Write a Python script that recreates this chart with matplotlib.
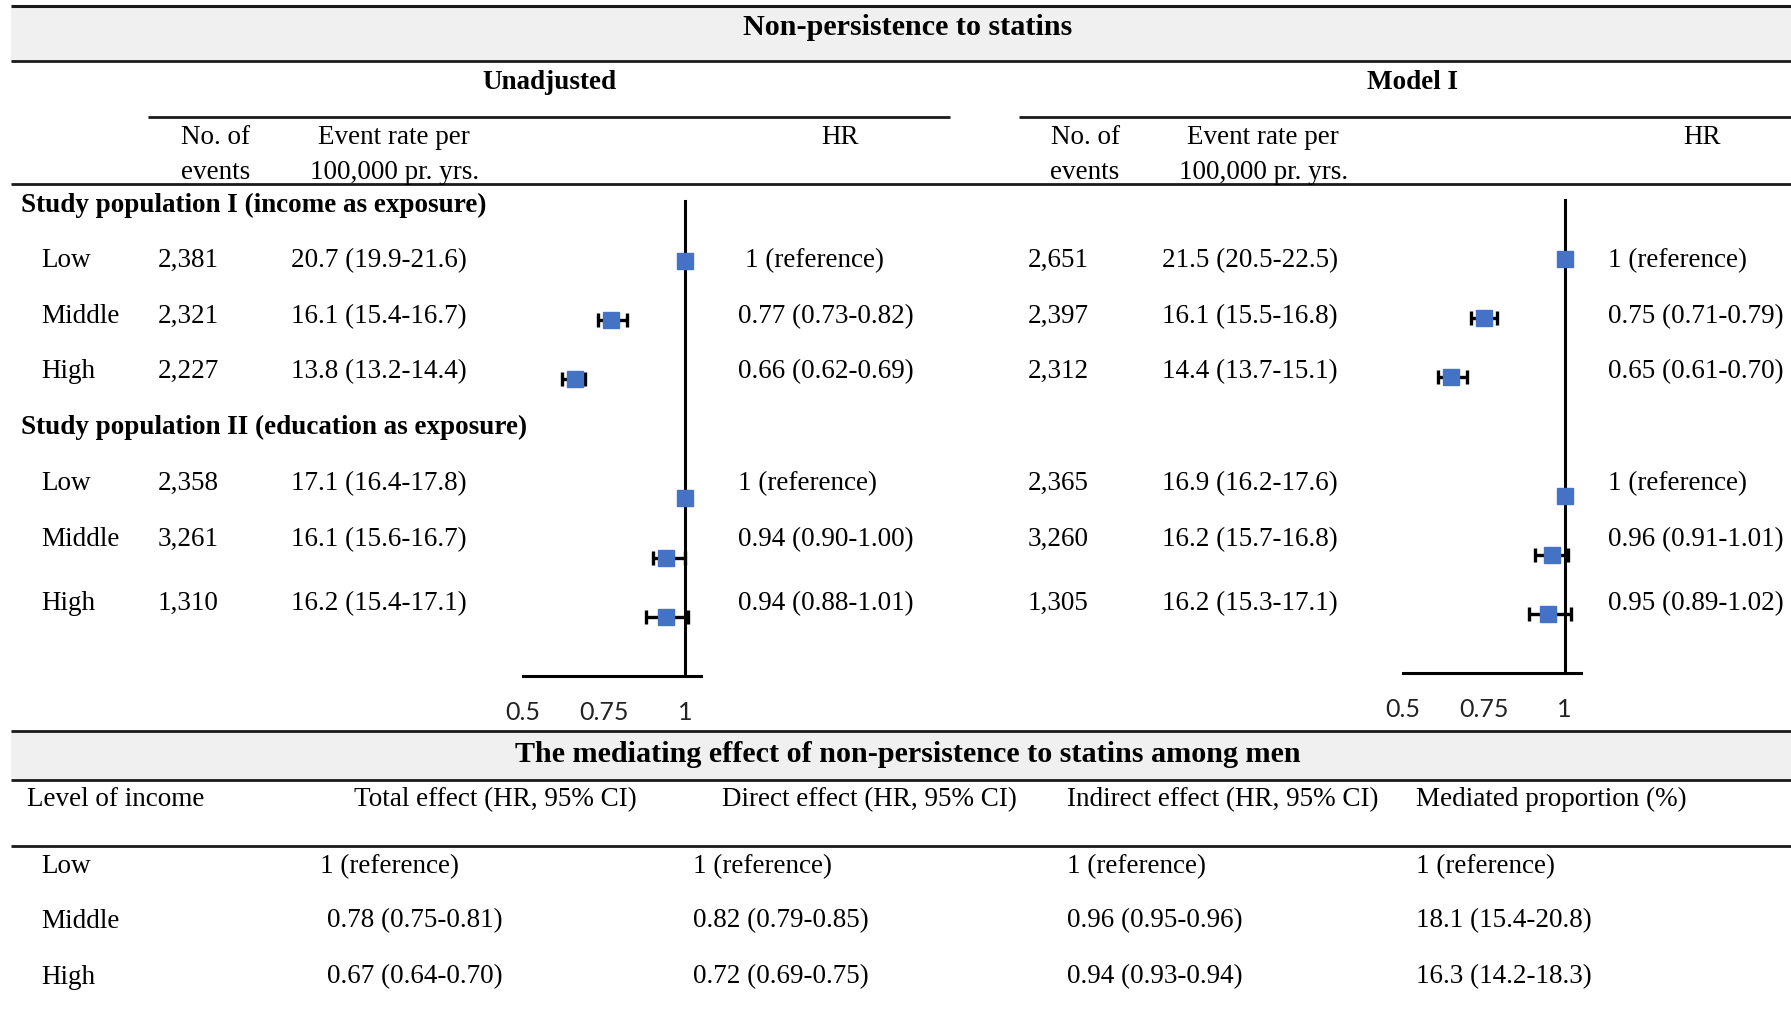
import numpy as np
import matplotlib.pyplot as plt
from matplotlib.lines import Line2D
from matplotlib.patches import Rectangle

plt.rcParams['font.family'] = ['Liberation Serif', 'DejaVu Serif']

# ---- data ----
levels = ["Low", "Middle", "High"]
pop_titles = ["Study population I (income as exposure)",
              "Study population II (education as exposure)"]

unadj_events = ["2,381", "2,321", "2,227", "2,358", "3,261", "1,310"]
unadj_rate = ["20.7 (19.9-21.6)", "16.1 (15.4-16.7)", "13.8 (13.2-14.4)",
              "17.1 (16.4-17.8)", "16.1 (15.6-16.7)", "16.2 (15.4-17.1)"]
unadj_hr = [1, 0.77, 0.66, 1, 0.94, 0.94]
unadj_lo = [None, 0.73, 0.62, None, 0.90, 0.88]
unadj_hi = [None, 0.82, 0.69, None, 1.00, 1.01]

model_events = ["2,651", "2,397", "2,312", "2,365", "3,260", "1,305"]
model_rate = ["21.5 (20.5-22.5)", "16.1 (15.5-16.8)", "14.4 (13.7-15.1)",
              "16.9 (16.2-17.6)", "16.2 (15.7-16.8)", "16.2 (15.3-17.1)"]
model_hr = [1, 0.75, 0.65, 1, 0.96, 0.95]
model_lo = [None, 0.71, 0.61, None, 0.91, 0.89]
model_hi = [None, 0.79, 0.70, None, 1.01, 1.02]

hr_ticks = [0.5, 0.75, 1]
hr_ticklabels = ["0.5", "0.75", "1"]

med_header = ["Level of income", "Total effect (HR, 95% CI)", "Direct effect (HR, 95% CI)",
              "Indirect effect (HR, 95% CI)", "Mediated proportion (%)"]
med_total = ["1 (reference)", "0.78 (0.75-0.81)", "0.67 (0.64-0.70)"]
med_direct = ["1 (reference)", "0.82 (0.79-0.85)", "0.72 (0.69-0.75)"]
med_indirect = ["1 (reference)", "0.96 (0.95-0.96)", "0.94 (0.93-0.94)"]
med_prop = ["1 (reference)", "18.1 (15.4-20.8)", "16.3 (14.2-18.3)"]

# ---- layout helpers (grid of the reference, 1568 x 883) ----
W, H = 1568, 883
FS = 19.5
TITLE_FS = 21.7
BLUE = '#4472C4'


def fx(x):
    return x / W


def fy(y):
    return 1 - y / H


fig = plt.figure(figsize=(17.91, 10.09), dpi=100)


def hline(x0, x1, y, lw=2.0):
    fig.add_artist(Line2D([fx(x0), fx(x1)], [fy(y), fy(y)], transform=fig.transFigure,
                          color='#1a1a1a', lw=lw, solid_capstyle='butt'))


def band(y0, y1):
    fig.add_artist(Rectangle((fx(10), fy(y1)), fx(W) - fx(10), fy(y0) - fy(y1),
                             transform=fig.transFigure, facecolor='#f0f0f0',
                             edgecolor='none', zorder=0))


def txt(x, y, s, ha='left', bold=False, size=FS):
    # +2: serif glyphs sit a little low in the reference
    fig.text(fx(x), fy(y + 2), s, ha=ha, va='center', fontsize=size,
             fontweight='bold' if bold else 'normal')


def hr_label(h, lo, hi):
    if lo is None:
        return "1 (reference)"
    return f"{h:.2f} ({lo:.2f}-{hi:.2f})"


# ---- header ----
band(5, 53)
hline(10, W, 5, lw=2.2)
hline(10, W, 53)
txt(795, 22, "Non-persistence to statins", ha='center', bold=True, size=TITLE_FS)
txt(481, 70, "Unadjusted", ha='center', bold=True)
txt(1237, 70, "Model I", ha='center', bold=True)
hline(130, 832, 102)
hline(892, W, 102)
for x_ev, x_rate, x_hr in [(189, 345, 735), (950, 1106, 1490)]:
    txt(x_ev, 118, "No. of", ha='center')
    txt(x_ev, 149, "events", ha='center')
    txt(x_rate, 118, "Event rate per", ha='center')
    txt(x_rate, 149, "100,000 pr. yrs.", ha='center')
    txt(x_hr, 118, "HR", ha='center')
hline(10, W, 161)

# ---- rows ----
txt(18, 178, pop_titles[0], bold=True)
txt(18, 372, pop_titles[1], bold=True)
text_rows = [226, 275, 323, 421, 470, 526]
for i, y in enumerate(text_rows):
    txt(36, y, levels[i % 3])
    txt(138, y, unadj_events[i])
    txt(255, y, unadj_rate[i])
    txt(652 if i == 0 else 646, y, hr_label(unadj_hr[i], unadj_lo[i], unadj_hi[i]))
    txt(900, y, model_events[i])
    txt(1017, y, model_rate[i])
    txt(1408, y, hr_label(model_hr[i], model_lo[i], model_hi[i]))

# ---- forest plots ----
row_pos = [0, 1, 2, 4, 5, 6]


def forest(left, right, top, bottom, hr, lo, hi):
    ax = fig.add_axes([fx(left), fy(bottom), fx(right) - fx(left), fy(top) - fy(bottom)])
    ax.set_xlim(0.5, 1.05)
    ax.set_ylim(7, -1)
    ax.patch.set_alpha(0)
    for p, h, l, u in zip(row_pos, hr, lo, hi):
        if l is not None:
            ax.errorbar(h, p, xerr=[[h - l], [u - h]], fmt='none', ecolor='black',
                        elinewidth=2.4, capsize=5, capthick=2.4, zorder=3)
    ax.plot(hr, row_pos, 's', color=BLUE, ms=11.5, zorder=4, clip_on=False)
    for s in ['top', 'right']:
        ax.spines[s].set_visible(False)
    ax.spines['left'].set_position(('data', 1))
    ax.spines['left'].set_linewidth(2.2)
    ax.spines['bottom'].set_linewidth(2.2)
    ax.set_yticks([])
    ax.set_xticks(hr_ticks)
    ax.set_xticklabels(hr_ticklabels, fontfamily='Lato', fontsize=18, color='#222222')
    ax.tick_params(axis='x', length=0, pad=18)


forest(458, 614, 176, 592, unadj_hr, unadj_lo, unadj_hi)
forest(1228, 1384, 175, 589, model_hr, model_lo, model_hi)

# ---- mediation table ----
band(640, 683)
hline(10, W, 640)
hline(10, W, 683)
txt(795, 658, "The mediating effect of non-persistence to statins among men", ha='center',
    bold=True, size=TITLE_FS)
for x, s in zip([24, 310, 632, 934, 1240], med_header):
    txt(x, 698, s)
hline(10, W, 740)
med_rows = [756, 804, 853]
for i, y in enumerate(med_rows):
    txt(36, y, levels[i])
    txt(280 if i == 0 else 286, y, med_total[i])
    txt(607, y, med_direct[i])
    txt(934, y, med_indirect[i])
    txt(1240, y, med_prop[i])

fig.savefig("out.png", dpi=100)
